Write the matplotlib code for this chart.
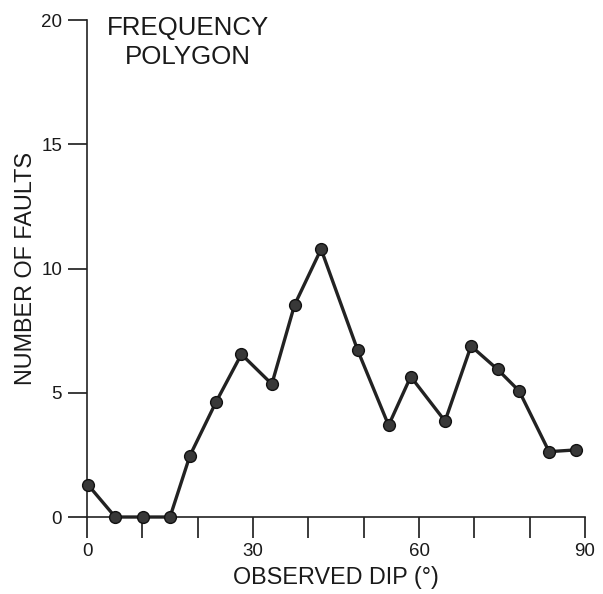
import matplotlib
matplotlib.use('Agg')
import matplotlib.pyplot as plt

plt.rcParams['font.family'] = ['Liberation Sans', 'DejaVu Sans']

dip = [0.2, 5.1, 10.2, 15.0, 18.6, 23.3, 27.9, 33.4, 37.5, 42.3,
       48.9, 54.5, 58.5, 64.7, 69.4, 74.2, 78.1, 83.5, 88.3]
faults = [1.29, 0, 0, 0, 2.47, 4.62, 6.55, 5.35, 8.53, 10.78,
          6.72, 3.69, 5.65, 3.86, 6.88, 5.94, 5.07, 2.63, 2.70]

x_ticks = list(range(0, 91, 10))
x_labels = ['0', '', '', '30', '', '', '60', '', '', '90']
y_ticks = [0, 5, 10, 15, 20]

fig = plt.figure(figsize=(6.03, 5.94), dpi=100)
ax = fig.add_axes([0.1443, 0.1296, 0.8259, 0.8367])

ax.plot(dip, faults, color='#222222', lw=2.4, marker='o', ms=8.5,
        mfc='#383838', mec='#111111', mew=1.0, clip_on=False, zorder=3)

ax.set_xlim(0, 90)
ax.set_ylim(0, 20)
ax.set_xticks(x_ticks)
ax.set_xticklabels(x_labels)
ax.set_yticks(y_ticks)

for s in ['top', 'right']:
    ax.spines[s].set_visible(False)
for s in ['left', 'bottom']:
    ax.spines[s].set_linewidth(1.2)
    ax.spines[s].set_color('#222222')

ax.tick_params(axis='x', direction='out', length=15, width=1.2,
               labelsize=13.5, pad=4, colors='#1a1a1a')
ax.tick_params(axis='y', direction='out', length=14, width=1.2,
               labelsize=13.5, pad=4, colors='#1a1a1a')

ax.set_xlabel('OBSERVED DIP (°)', fontsize=16.8, color='#1a1a1a', labelpad=4)
ax.set_ylabel('NUMBER OF FAULTS', fontsize=16.8, color='#1a1a1a', labelpad=3)

ax.text(18.3, 20.18, 'FREQUENCY\nPOLYGON', fontsize=18.6,
        ha='center', va='top', linespacing=1.3, color='#1a1a1a')

fig.savefig('out.png', dpi=100)
